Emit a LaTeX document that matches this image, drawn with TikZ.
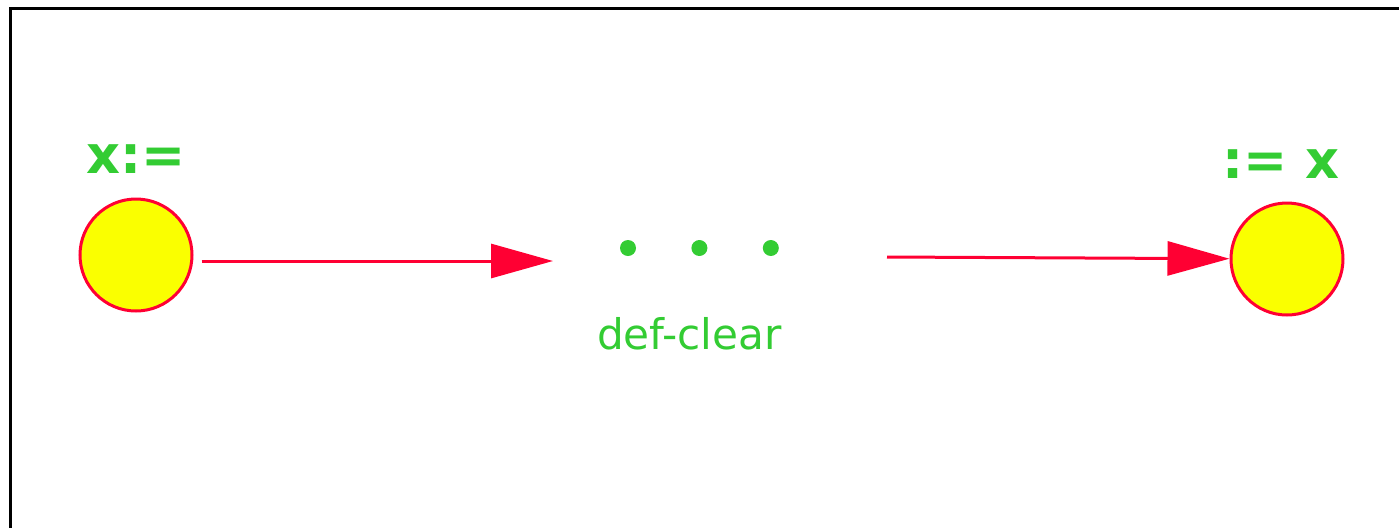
\documentclass[tikz,border=0pt]{standalone}
\usepackage{fontspec}
\setmainfont{DejaVu Sans}
\usetikzlibrary{positioning,arrows.meta}
\definecolor{flowred}{RGB}{255,0,51}
\definecolor{nodeyellow}{RGB}{250,255,0}
\definecolor{labelgreen}{RGB}{51,204,51}
\tikzstyle{point} = [circle, minimum size=1.12cm, inner sep=0pt, draw=flowred, fill=nodeyellow, line width=0.03cm]
\tikzstyle{dot} = [circle, minimum size=0.16cm, inner sep=0pt, fill=labelgreen]
\tikzstyle{greentext} = [text=labelgreen, inner sep=0pt, font=\fontsize{15}{17}\selectfont\bfseries]
\tikzstyle{arrow} = [flowred, line width=0.03cm, -{Triangle[length=0.62cm,width=0.34cm]}]
\tikzstyle{frame} = [black, line width=0.03cm]

\begin{document}
\begin{tikzpicture}[node distance=0.54cm]
\useasboundingbox (0,0) rectangle (13.99,5.27);
\draw [frame] (0.10,-0.5) -- (0.10,5.19) -- (14.5,5.19);
\node (def) [point] at (1.36,2.72) {};
\node (use) [point] at (12.87,2.68) {};
\node (deflabel) [greentext, above=0.23cm of def] {x:=};
\node (uselabel) [greentext, above=0.22cm of use, xshift=-0.06cm] {:= x};
\node (d1) [dot] at (6.28,2.79) {};
\node (d2) [dot, right = of d1] {};
\node (d3) [dot, right = of d2] {};
\node (clear) [greentext, below=0.6cm of d2, xshift=-0.1cm, font=\fontsize{12}{14}\selectfont\mdseries] {def-clear};
\coordinate (pathin) at (5.53,2.66);
\coordinate (pathout) at (8.87,2.70);
\draw [arrow, shorten <=0.08cm] (def.east |- pathin) -- (pathin);
\draw [arrow] (pathout) -- (use);
\end{tikzpicture}
\end{document}
